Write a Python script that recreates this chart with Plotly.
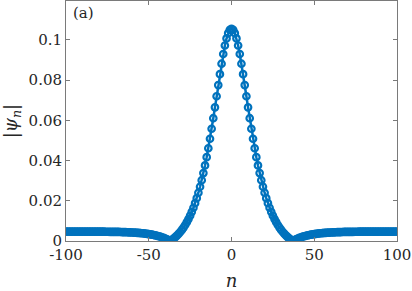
import plotly.graph_objects as go

n = list(range(-100, 101))

# |psi_n| for n = 0..100 (profile is symmetric)
psi_right = [
    0.1055, 0.10495, 0.10332, 0.10069, 0.09718, 0.09294, 0.08813, 0.08293, 0.07749, 0.07195,
    0.06643, 0.06103, 0.05580, 0.05082, 0.04611, 0.04169, 0.03757, 0.03375, 0.03022, 0.02698,
    0.02400, 0.02128, 0.01880, 0.01654, 0.01448, 0.01260, 0.01090, 0.00935, 0.00795, 0.00668,
    0.00553, 0.00448, 0.00353, 0.00268, 0.00190, 0.00120, 0.00056, 0.00005, 0.00046, 0.00086,
    0.00123, 0.00156, 0.00186, 0.00213, 0.00237, 0.00259, 0.00280, 0.00298, 0.00314, 0.00329,
    0.00342, 0.00355, 0.00366, 0.00375, 0.00385, 0.00392, 0.00400, 0.00407, 0.00413, 0.00418,
    0.00423, 0.00428, 0.00432, 0.00435, 0.00439, 0.00442, 0.00445, 0.00447, 0.00449, 0.00451,
    0.00453, 0.00455, 0.00456, 0.00457, 0.00458, 0.00460, 0.00461, 0.00462, 0.00463, 0.00463,
    0.00464, 0.00464, 0.00465, 0.00465, 0.00466, 0.00466, 0.00467, 0.00467, 0.00467, 0.00468,
    0.00468, 0.00468, 0.00469, 0.00469, 0.00469, 0.00469, 0.00469, 0.00469, 0.00469, 0.00469,
    0.00469,
]
psi_left = [
    0.00469, 0.00469, 0.00469, 0.00469, 0.00469, 0.00469, 0.00469, 0.00469, 0.00469, 0.00468,
    0.00468, 0.00468, 0.00467, 0.00467, 0.00467, 0.00466, 0.00466, 0.00465, 0.00465, 0.00464,
    0.00464, 0.00463, 0.00463, 0.00462, 0.00461, 0.00460, 0.00458, 0.00457, 0.00456, 0.00455,
    0.00453, 0.00451, 0.00449, 0.00447, 0.00445, 0.00442, 0.00439, 0.00435, 0.00432, 0.00428,
    0.00423, 0.00418, 0.00413, 0.00407, 0.00400, 0.00392, 0.00385, 0.00375, 0.00366, 0.00355,
    0.00342, 0.00329, 0.00314, 0.00298, 0.00280, 0.00259, 0.00237, 0.00213, 0.00186, 0.00156,
    0.00123, 0.00086, 0.00046, 0.00005, 0.00056, 0.00120, 0.00190, 0.00268, 0.00353, 0.00448,
    0.00553, 0.00668, 0.00795, 0.00935, 0.01090, 0.01260, 0.01448, 0.01654, 0.01880, 0.02128,
    0.02400, 0.02698, 0.03022, 0.03375, 0.03757, 0.04169, 0.04611, 0.05082, 0.05580, 0.06103,
    0.06643, 0.07195, 0.07749, 0.08293, 0.08813, 0.09294, 0.09718, 0.10069, 0.10332, 0.10495,
]
psi = psi_left + psi_right

x_ticks = [-100, -50, 0, 50, 100]
x_ticktext = ["-100", "-50", "0", "50", "100"]
y_ticks = [0, 0.02, 0.04, 0.06, 0.08, 0.1]
y_ticktext = ["0", "0.02", "0.04", "0.06", "0.08", "0.1"]

BLUE = "#0072BD"
FONT = "DejaVu Serif"
AX = "#7a7a7a"
TXT = "#262626"

fig = go.Figure()
fig.add_trace(go.Scatter(
    x=n, y=psi, mode="lines+markers",
    line=dict(color=BLUE, width=2.5),
    marker=dict(symbol="circle-open", size=6.5, color=BLUE, line=dict(color=BLUE, width=2.2)),
    showlegend=False,
))

axis_common = dict(
    showline=True, linecolor=AX, linewidth=1, mirror="ticks",
    ticks="inside", ticklen=4, tickcolor=AX, tickwidth=1,
    showgrid=False, zeroline=False, automargin=False,
    tickfont=dict(family=FONT, size=15, color=TXT),
)

fig.update_layout(
    width=412, height=291,
    margin=dict(l=66, r=15, t=1, b=50),
    paper_bgcolor="white", plot_bgcolor="white",
    font=dict(family=FONT),
    xaxis=dict(range=[-100, 100], tickvals=x_ticks, ticktext=x_ticktext,
               title=dict(text="<i>n</i>", font=dict(family=FONT, size=18, color=TXT), standoff=12),
               **axis_common),
    yaxis=dict(range=[0, 0.1193], tickvals=y_ticks, ticktext=y_ticktext,
               title=dict(text="|<i>ψ</i><sub><i>n</i></sub>|", font=dict(family=FONT, size=18, color=TXT), standoff=8),
               **axis_common),
    annotations=[dict(text="(a)", x=0.015, y=0.995, xref="paper", yref="paper",
                      xanchor="left", yanchor="top", showarrow=False,
                      font=dict(family=FONT, size=15, color=TXT))],
)

fig.write_html("out.html", config={"displayModeBar": False},
               post_script="document.body.style.margin='0';document.body.style.padding='0';")
